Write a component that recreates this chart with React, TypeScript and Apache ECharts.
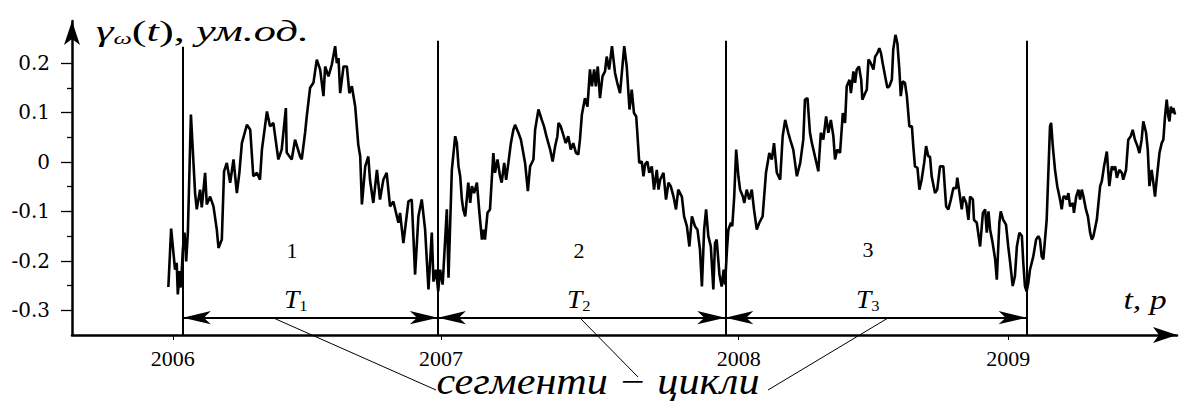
import React, { useEffect, useRef } from "react";
import * as echarts from "echarts";

const SERIF = "Liberation Serif";
const WIDE_SERIF = "DejaVu Serif";

// gamma_omega(t) readings, [year, value]
const lead: [number, number][] = [
  [2005.984, -0.253], [2005.994, -0.135], [2006.008, -0.218], [2006.014, -0.204], [2006.018, -0.268],
  [2006.024, -0.221], [2006.029, -0.254], [2006.036, -0.177],
];

const cycle1: [number, number][] = [
  [2006.042, -0.143], [2006.048, -0.201], [2006.054, -0.143], [2006.065, 0.096], [2006.080, -0.063],
  [2006.086, -0.096], [2006.098, -0.056], [2006.104, -0.092], [2006.116, -0.022], [2006.122, -0.086],
  [2006.134, -0.070], [2006.146, -0.090], [2006.158, -0.137], [2006.164, -0.174], [2006.176, -0.157],
  [2006.184, -0.019], [2006.194, -0.002], [2006.206, -0.042], [2006.218, 0.005], [2006.230, -0.063],
  [2006.239, -0.022], [2006.248, 0.038], [2006.266, 0.075], [2006.278, 0.065], [2006.289, -0.029],
  [2006.302, -0.022], [2006.313, -0.036], [2006.320, 0.025], [2006.338, 0.102], [2006.349, 0.072],
  [2006.361, 0.079], [2006.379, 0.005], [2006.391, 0.025], [2006.406, 0.109], [2006.409, 0.019],
  [2006.427, 0.005], [2006.439, 0.045], [2006.457, 0.011], [2006.463, 0.005], [2006.475, 0.059],
  [2006.481, 0.092], [2006.493, 0.150], [2006.505, 0.160], [2006.517, 0.207], [2006.529, 0.187],
  [2006.541, 0.133], [2006.547, 0.193], [2006.559, 0.173], [2006.571, 0.197], [2006.583, 0.234],
  [2006.589, 0.200], [2006.595, 0.210], [2006.601, 0.139], [2006.613, 0.193], [2006.625, 0.193],
  [2006.634, 0.139], [2006.643, 0.153], [2006.655, 0.112], [2006.666, 0.035], [2006.673, 0.011],
  [2006.679, -0.086], [2006.691, -0.009], [2006.702, 0.011], [2006.708, -0.036], [2006.720, -0.083],
  [2006.733, -0.016], [2006.744, -0.076], [2006.756, -0.036], [2006.768, -0.022], [2006.780, -0.090],
  [2006.792, -0.080], [2006.810, -0.123], [2006.816, -0.103], [2006.828, -0.164], [2006.846, -0.080],
  [2006.858, -0.076], [2006.870, -0.228], [2006.882, -0.110], [2006.894, -0.076], [2006.906, -0.137],
  [2006.918, -0.258], [2006.930, -0.143], [2006.936, -0.242], [2006.945, -0.218],
];

const cycle2: [number, number][] = [
  [2006.953, -0.262], [2006.960, -0.218], [2006.969, -0.248], [2006.984, -0.096], [2006.990, -0.234],
  [2007.002, -0.016], [2007.014, 0.052], [2007.020, 0.038], [2007.026, -0.009], [2007.032, -0.029],
  [2007.038, -0.076], [2007.043, -0.096], [2007.050, -0.110], [2007.061, -0.042], [2007.068, -0.083],
  [2007.074, -0.049], [2007.082, -0.063], [2007.092, -0.042], [2007.101, -0.103], [2007.110, -0.157],
  [2007.115, -0.137], [2007.121, -0.157], [2007.130, -0.103], [2007.139, -0.096], [2007.151, 0.018],
  [2007.157, -0.022], [2007.166, 0.005], [2007.175, -0.029], [2007.181, -0.042], [2007.190, -0.002],
  [2007.197, -0.036], [2007.205, -0.002], [2007.214, 0.038], [2007.223, 0.065], [2007.229, 0.075],
  [2007.241, 0.059], [2007.250, 0.045], [2007.265, -0.002], [2007.275, -0.059], [2007.283, -0.009],
  [2007.295, 0.005], [2007.301, 0.065], [2007.313, 0.106], [2007.325, 0.085], [2007.333, 0.072],
  [2007.343, 0.049], [2007.355, 0.025], [2007.364, 0.001], [2007.373, 0.032], [2007.381, 0.052],
  [2007.385, 0.079], [2007.393, 0.072], [2007.400, 0.059], [2007.411, 0.038], [2007.420, 0.052],
  [2007.429, 0.025], [2007.438, 0.038], [2007.448, 0.018], [2007.456, 0.015], [2007.462, 0.045],
  [2007.469, 0.096], [2007.480, 0.129], [2007.489, 0.112], [2007.498, 0.187], [2007.505, 0.153],
  [2007.513, 0.187], [2007.519, 0.153], [2007.526, 0.193], [2007.534, 0.129], [2007.543, 0.173],
  [2007.552, 0.183], [2007.558, 0.213], [2007.567, 0.187], [2007.577, 0.234], [2007.588, 0.180],
  [2007.596, 0.160], [2007.606, 0.139], [2007.621, 0.234], [2007.630, 0.193], [2007.640, 0.106],
  [2007.648, 0.146], [2007.656, 0.099], [2007.664, 0.092], [2007.668, 0.059], [2007.675, -0.002],
  [2007.684, 0.001], [2007.690, -0.029], [2007.696, -0.005], [2007.704, 0.001], [2007.711, -0.022],
  [2007.720, -0.009], [2007.728, -0.056], [2007.738, -0.016], [2007.744, -0.056], [2007.750, -0.036],
  [2007.762, -0.022], [2007.771, -0.076], [2007.780, -0.042], [2007.788, -0.049], [2007.798, -0.070],
  [2007.807, -0.096], [2007.815, -0.056], [2007.828, -0.070], [2007.836, -0.110], [2007.846, -0.130],
  [2007.855, -0.171], [2007.864, -0.110], [2007.875, -0.130], [2007.884, -0.137], [2007.893, -0.177],
  [2007.900, -0.252], [2007.908, -0.137], [2007.915, -0.096], [2007.923, -0.150], [2007.932, -0.171],
  [2007.941, -0.258], [2007.947, -0.164], [2007.953, -0.157], [2007.963, -0.228], [2007.971, -0.252],
  [2007.978, -0.218], [2007.983, -0.248],
];

const cycle3: [number, number][] = [
  [2007.990, -0.177], [2007.995, -0.137], [2008.004, -0.123], [2008.009, -0.130], [2008.016, -0.070],
  [2008.023, 0.025], [2008.031, -0.029], [2008.037, -0.056], [2008.047, -0.070], [2008.052, -0.083],
  [2008.061, -0.056], [2008.070, -0.076], [2008.079, -0.056], [2008.087, -0.096], [2008.097, -0.137],
  [2008.106, -0.123], [2008.118, -0.110], [2008.130, -0.022], [2008.142, 0.018], [2008.151, 0.005],
  [2008.159, 0.038], [2008.169, -0.022], [2008.181, -0.036], [2008.190, 0.052], [2008.199, 0.085],
  [2008.210, 0.059], [2008.217, 0.045], [2008.228, 0.025], [2008.241, -0.029], [2008.253, -0.002],
  [2008.264, 0.045], [2008.270, 0.126], [2008.279, 0.129], [2008.288, 0.059], [2008.295, 0.038],
  [2008.306, 0.011], [2008.318, -0.019], [2008.327, 0.059], [2008.336, 0.045], [2008.346, 0.092],
  [2008.354, 0.059], [2008.363, 0.085], [2008.372, 0.052], [2008.378, 0.005], [2008.386, 0.025],
  [2008.396, 0.018], [2008.406, 0.099], [2008.414, 0.079], [2008.420, 0.153], [2008.430, 0.166],
  [2008.435, 0.139], [2008.444, 0.183], [2008.450, 0.160], [2008.456, 0.187], [2008.464, 0.193],
  [2008.472, 0.166], [2008.476, 0.126], [2008.486, 0.139], [2008.492, 0.146], [2008.498, 0.207],
  [2008.506, 0.200], [2008.516, 0.187], [2008.522, 0.213], [2008.530, 0.220], [2008.537, 0.230],
  [2008.543, 0.220], [2008.549, 0.200], [2008.558, 0.173], [2008.566, 0.150], [2008.573, 0.153],
  [2008.582, 0.166], [2008.587, 0.227], [2008.595, 0.257], [2008.602, 0.240], [2008.609, 0.187],
  [2008.614, 0.133], [2008.621, 0.163], [2008.629, 0.160], [2008.636, 0.133], [2008.645, 0.072],
  [2008.654, 0.072], [2008.659, 0.032], [2008.665, -0.009], [2008.674, -0.012], [2008.681, -0.056],
  [2008.689, -0.036], [2008.698, -0.002], [2008.705, 0.032], [2008.713, 0.011], [2008.719, 0.011],
  [2008.725, -0.029], [2008.737, -0.063], [2008.745, -0.056], [2008.755, -0.009], [2008.767, -0.009],
  [2008.777, -0.090], [2008.785, -0.096], [2008.794, -0.076], [2008.803, -0.053], [2008.813, -0.053],
  [2008.817, -0.032], [2008.825, -0.063], [2008.833, -0.096], [2008.839, -0.070], [2008.849, -0.083],
  [2008.857, -0.117], [2008.863, -0.070], [2008.873, -0.076], [2008.877, -0.117], [2008.887, -0.123],
  [2008.899, -0.171], [2008.909, -0.103], [2008.917, -0.096], [2008.923, -0.143], [2008.929, -0.100],
  [2008.935, -0.137], [2008.944, -0.164], [2008.953, -0.197], [2008.959, -0.238], [2008.968, -0.123],
  [2008.973, -0.100], [2008.982, -0.117], [2008.992, -0.127], [2009.000, -0.171], [2009.007, -0.204],
  [2009.016, -0.251], [2009.024, -0.231], [2009.031, -0.171], [2009.040, -0.143], [2009.049, -0.150],
  [2009.054, -0.204], [2009.060, -0.251], [2009.066, -0.262],
];

const tail: [number, number][] = [
  [2009.072, -0.245], [2009.078, -0.218], [2009.090, -0.191], [2009.100, -0.157], [2009.108, -0.150],
  [2009.114, -0.157], [2009.120, -0.191], [2009.126, -0.197], [2009.132, -0.157], [2009.138, -0.117],
  [2009.144, -0.022], [2009.150, 0.072], [2009.154, 0.079], [2009.160, 0.032], [2009.168, -0.016],
  [2009.176, -0.049], [2009.186, -0.076], [2009.192, -0.096], [2009.198, -0.070], [2009.204, -0.070],
  [2009.210, -0.076], [2009.216, -0.063], [2009.222, -0.090], [2009.232, -0.083], [2009.236, -0.103],
  [2009.244, -0.070], [2009.252, -0.056], [2009.258, -0.076], [2009.264, -0.056], [2009.270, -0.070],
  [2009.279, -0.096], [2009.286, -0.110], [2009.294, -0.143], [2009.300, -0.157], [2009.306, -0.150],
  [2009.318, -0.117], [2009.330, -0.049], [2009.336, -0.039], [2009.344, -0.009], [2009.354, 0.021],
  [2009.363, -0.049], [2009.372, -0.009], [2009.378, -0.016], [2009.384, -0.009], [2009.390, -0.032],
  [2009.399, -0.016], [2009.408, -0.022], [2009.413, -0.036], [2009.423, -0.016], [2009.431, 0.045],
  [2009.440, 0.052], [2009.447, 0.065], [2009.455, 0.045], [2009.464, 0.032], [2009.471, 0.018],
  [2009.479, 0.045], [2009.485, 0.082], [2009.495, 0.059], [2009.501, 0.025], [2009.507, -0.049],
  [2009.515, -0.016], [2009.521, -0.042], [2009.527, -0.070], [2009.533, -0.036], [2009.543, 0.018],
  [2009.551, 0.038], [2009.557, 0.045], [2009.563, 0.092], [2009.569, 0.126], [2009.575, 0.092],
  [2009.579, 0.082], [2009.584, 0.112], [2009.589, 0.099], [2009.593, 0.109], [2009.599, 0.096],
];

// axes
const xMin = 2005.638;
const xMax = 2009.606;
const yMin = -0.35;
const yMax = 0.285;
const xTickValues = [2006.0, 2006.963, 2008.032, 2009.0];
const yMajorTicks = [-0.3, -0.2, -0.1, 0, 0.1, 0.2];
const yMinorTicks = [-0.25, -0.15, -0.05, 0.05, 0.15, 0.25];

// cycle segments
const boundaries = [2006.036, 2006.952, 2007.984, 2009.066];
const boundaryTops = [0.233, 0.245, 0.245, 0.245];
const arrowLevel = -0.315;
const segmentNames = ["1", "2", "3"];

export default function App() {
  const ref = useRef<HTMLDivElement>(null);

  useEffect(() => {
    if (!ref.current) return;
    const chart = echarts.init(ref.current, undefined, { renderer: "svg" });
    const series = [...lead, ...cycle1, ...cycle2, ...cycle3, ...tail];

    const verticals = boundaries.map((b, i) => [
      { coord: [b, yMin] },
      { coord: [b, boundaryTops[i]] },
    ]);
    const arrows = boundaries.slice(0, -1).map((b, i) => [
      { coord: [b, arrowLevel] },
      { coord: [boundaries[i + 1], arrowLevel] },
    ]);

    const txt = (x: number, y: number, text: string, size: number, italic = false, sx = 1) => ({
      type: "text",
      x,
      y,
      scaleX: sx,
      silent: true,
      style: {
        text,
        fill: "#000",
        fontFamily: SERIF,
        fontSize: size,
        fontStyle: italic ? "italic" : "normal",
        align: "center",
        verticalAlign: "middle",
      },
    });

    const tLabel = (x: number, y: number, sub: string) => ({
      type: "text",
      x,
      y,
      scaleX: 1.1,
      silent: true,
      style: {
        text: `{t|T}{s|${sub}}`,
        fill: "#000",
        align: "left",
        verticalAlign: "top",
        rich: {
          t: { fontFamily: SERIF, fontStyle: "italic", fontSize: 25, lineHeight: 26, fill: "#000" },
          s: { fontFamily: SERIF, fontSize: 15, lineHeight: 15, verticalAlign: "bottom", fill: "#000" },
        },
      },
    });

    const leader = (x1: number, y1: number, x2: number, y2: number) => ({
      type: "line",
      silent: true,
      shape: { x1, y1, x2, y2 },
      style: { stroke: "#000", lineWidth: 1 },
    });

    chart.setOption({
      animation: false,
      grid: { left: 72, right: 12, top: 21, bottom: 68 },
      xAxis: {
        type: "value",
        min: xMin,
        max: xMax,
        axisLine: {
          onZero: false,
          symbol: ["none", "arrow"],
          symbolSize: [12, 24],
          lineStyle: { color: "#000", width: 2.5 },
        },
        axisTick: { customValues: xTickValues, length: 5, lineStyle: { color: "#000", width: 1 } },
        axisLabel: {
          customValues: xTickValues,
          formatter: (v: number) => String(Math.round(v)),
          fontFamily: SERIF,
          fontSize: 22,
          color: "#000",
          margin: 12,
        },
        splitLine: { show: false },
      },
      yAxis: [
        {
          type: "value",
          min: yMin,
          max: yMax,
          axisLine: {
            show: true,
            onZero: false,
            symbol: ["none", "arrow"],
            symbolSize: [12, 24],
            lineStyle: { color: "#000", width: 2.5 },
          },
          axisTick: { show: true, customValues: yMajorTicks, length: 11, lineStyle: { color: "#000", width: 1.3 } },
          axisLabel: {
            customValues: yMajorTicks,
            formatter: (v: number) => (Math.abs(v) < 1e-9 ? "0" : v.toFixed(1)),
            fontFamily: WIDE_SERIF,
            fontSize: 20,
            color: "#000",
            margin: 22,
          },
          splitLine: { show: false },
        },
        {
          type: "value",
          min: yMin,
          max: yMax,
          position: "left",
          axisLine: { show: false, onZero: false },
          axisTick: { show: true, customValues: yMinorTicks, length: 5, lineStyle: { color: "#000", width: 1.3 } },
          axisLabel: { show: false },
          splitLine: { show: false },
        },
      ],
      series: [
        {
          type: "line",
          data: series,
          showSymbol: false,
          symbol: "none",
          silent: true,
          lineStyle: { color: "#000", width: 2.6 },
        },
        {
          type: "line",
          data: [],
          silent: true,
          markLine: {
            silent: true,
            symbol: ["none", "none"],
            label: { show: false },
            lineStyle: { color: "#000", width: 2, type: "solid" },
            emphasis: { disabled: true },
            data: verticals,
          },
        },
        {
          type: "line",
          data: [],
          silent: true,
          markLine: {
            silent: true,
            symbol: ["arrow", "arrow"],
            symbolSize: [10, 28],
            label: { show: false },
            lineStyle: { color: "#000", width: 2.2, type: "solid" },
            itemStyle: { color: "#000" },
            emphasis: { disabled: true },
            data: arrows,
          },
        },
      ],
      graphic: [
        {
          type: "text",
          x: 96,
          y: 15,
          scaleX: 1.53,
          silent: true,
          style: {
            text: "{g|γ}{s|ω}{n|(}{i|t}{n|),}{i| ум.од.}",
            fill: "#000",
            align: "left",
            verticalAlign: "top",
            rich: {
              g: { fontFamily: SERIF, fontStyle: "italic", fontSize: 29, lineHeight: 32, fill: "#000" },
              s: { fontFamily: SERIF, fontStyle: "italic", fontSize: 17, lineHeight: 17, verticalAlign: "bottom", fill: "#000" },
              n: { fontFamily: SERIF, fontSize: 29, lineHeight: 32, fill: "#000" },
              i: { fontFamily: SERIF, fontStyle: "italic", fontSize: 29, lineHeight: 32, fill: "#000" },
            },
          },
        },
        txt(1145, 300, "t, p", 27, true, 1.25),
        txt(292, 250, segmentNames[0], 22),
        txt(579, 250, segmentNames[1], 22),
        txt(868, 249, segmentNames[2], 22),
        tLabel(284, 287, "1"),
        tLabel(567, 287, "2"),
        tLabel(856, 287, "3"),
        leader(273.5, 318, 436, 390),
        leader(580, 318, 638, 377),
        leader(888, 318, 768, 390),
        txt(598, 382, "сегменти − цикли", 37, true, 1.14),
      ],
    });

    return () => chart.dispose();
  }, []);

  return (
    <div
      ref={ref}
      style={{ position: "absolute", left: 0, top: 0, width: 1189, height: 403, background: "#fff" }}
    />
  );
}
